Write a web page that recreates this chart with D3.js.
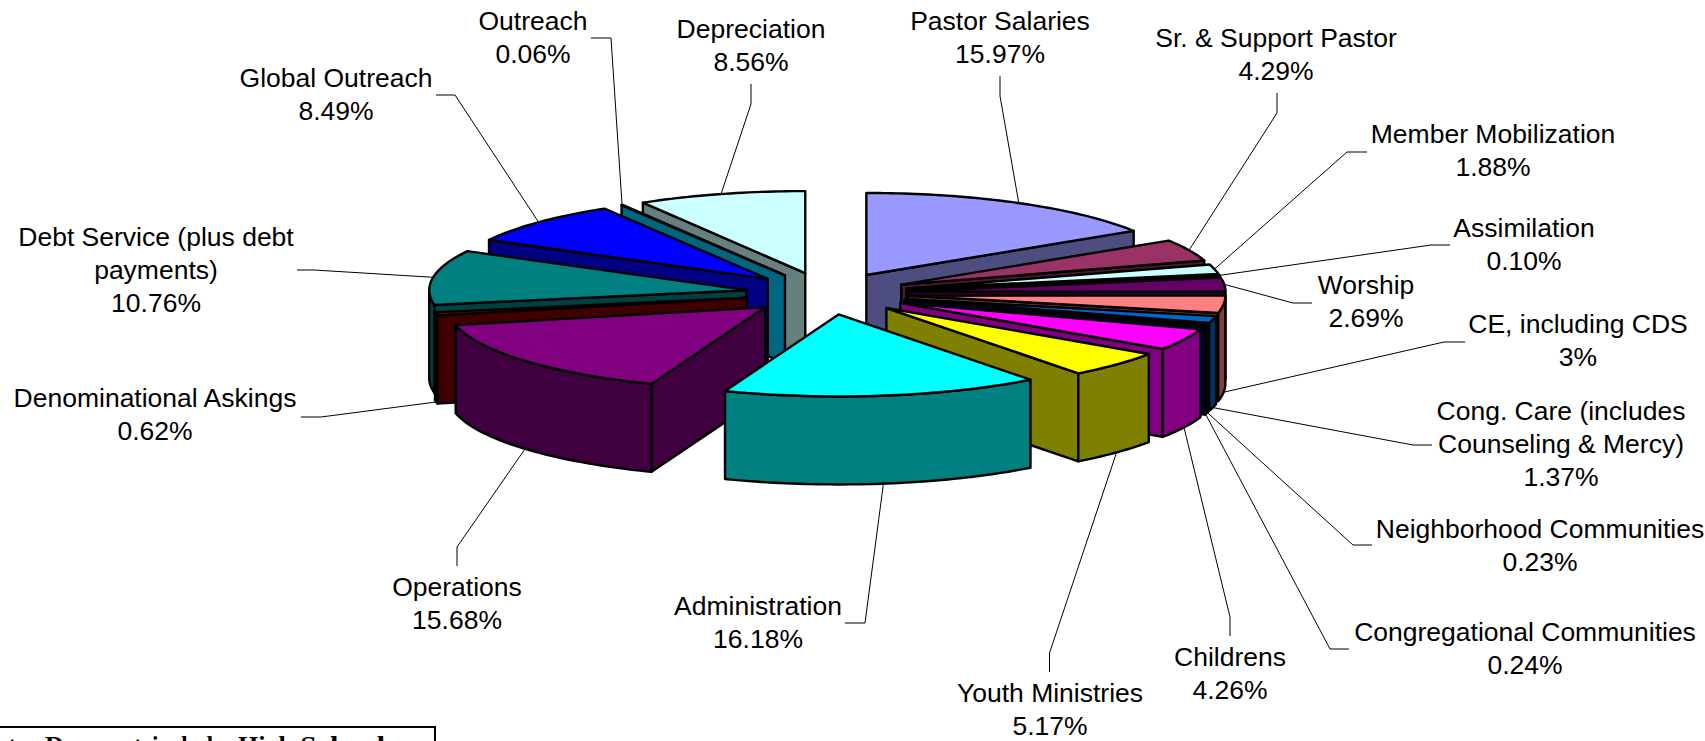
<!DOCTYPE html>
<html>
<head>
<meta charset="utf-8">
<style>
html,body{margin:0;padding:0;background:#fff;overflow:hidden}
svg{display:block}
text{font-family:"Liberation Sans",Arial,sans-serif;fill:#000}
</style>
<script src="https://cdnjs.cloudflare.com/ajax/libs/d3/7.8.5/d3.min.js"></script>
</head>
<body>
<svg id="chart" width="1705" height="741"></svg>
<script>
// ---- data ----
const categories = ["Pastor Salaries","Sr. & Support Pastor","Member Mobilization","Assimilation","Worship","CE, including CDS","Cong. Care (includes|Counseling & Mercy)","Neighborhood Communities","Congregational Communities","Childrens","Youth Ministries","Administration","Operations","Denominational Askings","Debt Service (plus debt|payments)","Global Outreach","Outreach","Depreciation"];
const values = [15.97,4.29,1.88,0.10,2.69,3.45,1.37,0.23,0.24,4.26,5.17,16.18,15.68,0.62,10.76,8.49,0.06,8.56];
const valueLabels = ["15.97%","4.29%","1.88%","0.10%","2.69%","3%","1.37%","0.23%","0.24%","4.26%","5.17%","16.18%","15.68%","0.62%","10.76%","8.49%","0.06%","8.56%"];
const footnoteWords = ["ter","Dept","includes","High","School"];

// ---- styling / layout ----
const colors = ["#9999FF","#993366","#CCFFFF","#FFFFCC","#660066","#FF8080","#0066CC","#CCCCFF","#000080","#FF00FF","#FFFF00","#00FFFF","#800080","#800000","#008080","#0000FF","#00CCFF","#CCFFFF"];
const cx = 827, cy = 293.5, rx = 317, ry = 82, depth = 88, explode = 0.258;
const fontSize = 26.5, lineH = 33;
// label centre x, first baseline y
const labelPos = [[1000,30],[1276,47],[1493,143],[1524,237],[1366,294],[1578,333],[1561,420],[1540,538],[1525,641],[1230,666],[1050,702],[758,615],[457,596],[155,407],[156,246],[336,87],[533,30],[751,38]];
// leader elbow points: near label, bend
const leaderPos = [[[1000,76],[1000,96]],[[1277,93],[1277,113]],[[1367,152],[1347,152]],[[1450,245],[1431,245]],[[1312,303],[1293,303]],[[1465,342],[1444,342]],[[1432,445],[1413,445]],[[1372,545],[1353,545]],[[1349,649],[1330,649]],[[1230,636],[1230,617]],[[1049.5,672],[1049.5,653]],[[845,623],[865,623]],[[457,566],[457,547]],[[301,417],[321,417]],[[297,270],[314,270]],[[436,95],[455,95]],[[591,38],[611,38]],[[751,84],[751,104]]];
const drawOrder = [0,1,2,3,4,5,6,7,8,9,10,17,16,15,14,13,12,11];
const footnoteX = [[8,30],[45,97],[152,80],[238,55],[300,85]];

// ---- scales ----
const sx = d3.scaleLinear().domain([-1,1]).range([cx-rx,cx+rx]);
const sy = d3.scaleLinear().domain([-1,1]).range([cy+ry,cy-ry]);

const arcs = d3.pie().sort(null).startAngle(0).endAngle(2*Math.PI).value(d=>d)(values);
const svg = d3.select("#chart");
const line = d3.line();

function pt(a, m, r, z){
  return [sx(explode*Math.sin(m)+r*Math.sin(a)), sy(explode*Math.cos(m)+r*Math.cos(a))+(z?depth:0)];
}
function arcPts(a0,a1,m,z){
  const n = Math.max(2,Math.ceil((a1-a0)/0.02));
  return d3.range(n+1).map(i=>pt(a0+(a1-a0)*i/n,m,1,z));
}
function wall(col){ const c=d3.rgb(col); return d3.rgb(c.r/2,c.g/2,c.b/2).formatHex(); }

const pieG = svg.append("g").attr("stroke","#000").attr("stroke-width",2.4).attr("stroke-linejoin","round");
drawOrder.forEach(i=>{
  const d = arcs[i], m=(d.startAngle+d.endAngle)/2, a0=d.startAngle, a1=d.endAngle;
  const g = pieG.append("g").attr("class","slice");
  const dark = wall(colors[i]);
  const face = a => [pt(0,m,0,false),pt(a,m,1,false),pt(a,m,1,true),pt(0,m,0,true)];
  if(Math.sin(a0)<0) g.append("path").attr("fill",dark).attr("d",line(face(a0))+"Z");
  if(Math.sin(a1)>0) g.append("path").attr("fill",dark).attr("d",line(face(a1))+"Z");
  // outer wall: only the front half of the rim
  const w0=Math.max(a0,Math.PI/2), w1=Math.min(a1,3*Math.PI/2);
  if(w1>w0){
    const top=arcPts(w0,w1,m,false), bot=arcPts(w0,w1,m,true).reverse();
    g.append("path").attr("fill",dark).attr("d",line(top.concat(bot))+"Z");
  }
  g.append("path").attr("fill",colors[i]).attr("d",line([pt(0,m,0,false)].concat(arcPts(a0,a1,m,false)))+"Z");
});

// leaders
const leaderG = svg.append("g").attr("fill","none").attr("stroke","#000").attr("stroke-width",1);
arcs.forEach((d,i)=>{
  const m=(d.startAngle+d.endAngle)/2;
  const rim=pt(m,m,1,Math.cos(m)<0);
  leaderG.append("path").attr("d",line([leaderPos[i][0],leaderPos[i][1],rim]));
});

// labels
const labelG = svg.append("g").attr("text-anchor","middle").attr("font-size",fontSize);
categories.forEach((c,i)=>{
  const lines=c.split("|").concat([valueLabels[i]]);
  const t=labelG.append("text").attr("transform",`translate(${labelPos[i][0]},${labelPos[i][1]})`);
  lines.forEach((s,j)=>t.append("tspan").attr("x",0).attr("y",j*lineH).text(s));
});

// clipped footnote box
svg.append("rect").attr("x",-10).attr("y",727).attr("width",445).attr("height",60).attr("fill","#fff").attr("stroke","#000").attr("stroke-width",2);
footnoteWords.forEach((w,i)=>{
  svg.append("text").attr("x",footnoteX[i][0]).attr("y",754).attr("font-size",26).attr("font-weight","bold")
    .attr("textLength",footnoteX[i][1]).attr("lengthAdjust",i===1?"spacing":"spacingAndGlyphs")
    .style("font-family",'"Liberation Serif","Times New Roman",serif').text(w);
});
</script>
</body>
</html>
